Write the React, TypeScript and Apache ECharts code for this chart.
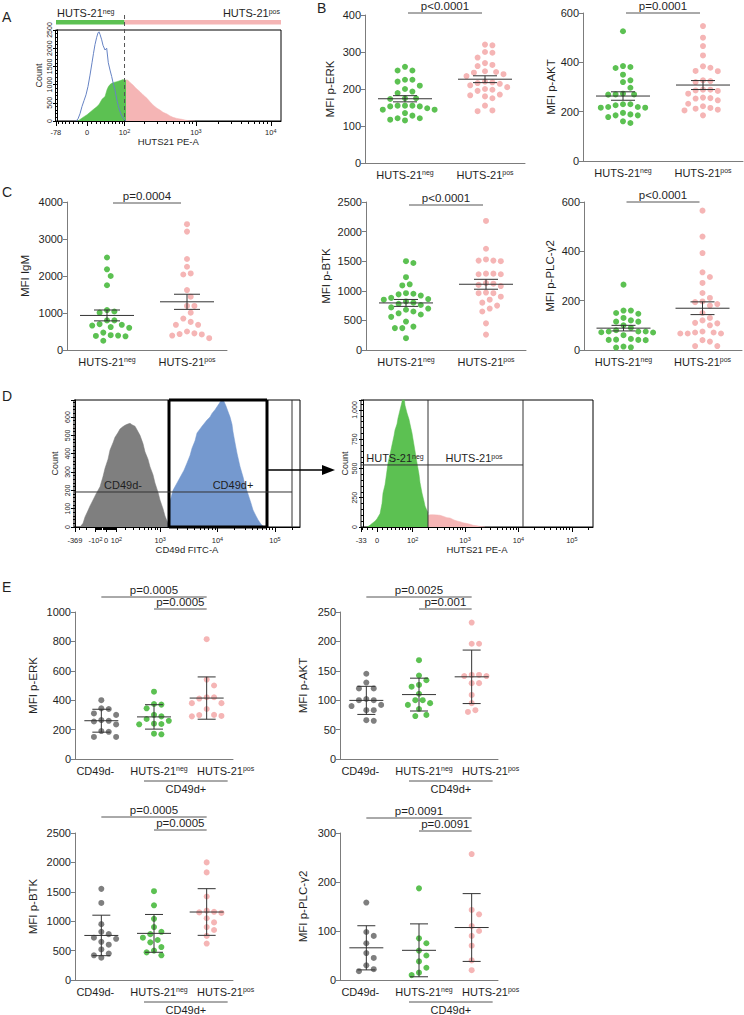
import React, { useEffect, useRef } from "react";
import * as echarts from "echarts";

const FONT = '"Liberation Sans", Arial, Helvetica, sans-serif';
const TXT = "#1f1f1f";
const AX = "#7c7c7c";
const ERR = "#333333";
const GREEN = "#5cc152";
const PINK = "#f5b5b5";
const GRAY = "#7f7f7f";
const BLUE = "#7599cf";
const BLUE_LINE = "#6683c4";

// ---------- categories ----------
const catsHuts = ["HUTS-21neg", "HUTS-21pos"];
const catsE = ["CD49d-", "HUTS-21neg", "HUTS-21pos"];

// ---------- panel B / C values (MFI) ----------
const bErkNeg = [260, 250, 250, 225, 220, 225, 209, 200, 193, 189, 175, 175, 173, 155, 155, 153, 153, 155, 144, 144, 148, 135, 128, 121, 117, 121, 115];
const bErkPos = [320, 318, 300, 298, 285, 270, 265, 262, 248, 246, 244, 240, 235, 220, 218, 216, 214, 210, 205, 200, 198, 195, 185, 183, 180, 175, 155, 142, 140];
const bAktNeg = [526, 381, 377, 385, 350, 320, 327, 297, 270, 273, 269, 270, 219, 230, 230, 219, 216, 216, 226, 185, 178, 195, 185, 189, 154, 161];
const bAktPos = [547, 500, 466, 428, 378, 384, 364, 365, 327, 320, 324, 289, 289, 273, 286, 284, 255, 232, 253, 246, 257, 215, 208, 222, 205, 212, 185];
const cIgmNeg = [2500, 2180, 2000, 1750, 1080, 1040, 1010, 800, 800, 700, 680, 660, 620, 600, 470, 400, 390, 380, 370, 250];
const cIgmPos = [3400, 3200, 2460, 2250, 2040, 2070, 1620, 1440, 1190, 1190, 1010, 850, 680, 680, 760, 450, 500, 390, 420, 430, 320];
const cBtkNeg = [1500, 1470, 1230, 1110, 1090, 960, 950, 940, 920, 880, 860, 850, 820, 800, 780, 760, 720, 700, 680, 650, 620, 600, 560, 480, 395, 370, 370, 200];
const cBtkPos = [2180, 1710, 1530, 1510, 1500, 1510, 1290, 1280, 1290, 1280, 1130, 1120, 1100, 1080, 970, 960, 960, 900, 850, 800, 750, 700, 650, 450, 260];
const cPlcNeg = [265, 160, 150, 147, 160, 130, 120, 115, 115, 100, 90, 80, 75, 72, 71, 75, 75, 60, 45, 42, 41, 41, 40, 14, 11, 10];
const cPlcPos = [565, 460, 393, 315, 296, 272, 231, 211, 197, 194, 186, 180, 150, 130, 120, 110, 108, 100, 75, 71, 71, 67, 67, 67, 40, 34, 16, 16];

// ---------- panel E values (MFI) ----------
const eErkCd49dNeg = [400, 345, 340, 310, 300, 265, 260, 255, 235, 190, 185, 150, 150];
const eErkHutsNeg = [458, 374, 370, 345, 300, 290, 272, 260, 240, 238, 236, 172, 168];
const eErkHutsPos = [815, 540, 500, 411, 420, 420, 380, 380, 340, 300, 293, 299, 290];
const eAktCd49dNeg = [145, 130, 120, 120, 102, 100, 100, 92, 90, 83, 83, 65, 66];
const eAktHutsNeg = [168, 142, 134, 126, 123, 111, 100, 100, 95, 92, 85, 73, 75];
const eAktHutsPos = [232, 196, 196, 143, 141, 143, 141, 129, 129, 109, 95, 80, 83];
const eBtkCd49dNeg = [1550, 1310, 950, 820, 780, 720, 700, 650, 600, 520, 450, 420, 380];
const eBtkHutsNeg = [1510, 1270, 1040, 900, 820, 780, 720, 680, 640, 560, 500, 470, 420];
const eBtkHutsPos = [2000, 1830, 1420, 1180, 1160, 1150, 1140, 1050, 980, 900, 850, 750, 620];
const ePlcCd49dNeg = [158, 98, 90, 75, 55, 45, 30, 22, 18];
const ePlcHutsNeg = [187, 85, 75, 60, 50, 38, 25, 15, 10];
const ePlcHutsPos = [257, 143, 134, 110, 100, 90, 70, 40, 20];

// ---------- histograms: [display channel, count] ----------
const aControl = [[19, 0], [21, 60], [23, 200], [25, 400], [27, 560], [29, 720], [31, 950], [33, 1260], [35, 1600], [36.5, 1860], [38, 2100], [39.7, 2300], [41, 2420], [42, 2450], [43, 2380], [44.7, 2230], [46, 2080], [48, 1950], [49.7, 2000], [51.3, 1600], [53, 1400], [54.7, 1220], [56.5, 1000], [58, 850], [60, 560], [61.5, 390], [63.5, 220], [66, 80], [69, 0]];
const aNeg = [[21, 0], [24, 60], [27, 120], [30, 170], [33, 240], [36, 310], [39.7, 390], [42, 450], [45, 600], [48, 670], [50, 860], [51.3, 940], [53, 1000], [54.7, 1035], [57, 1060], [59.7, 1080], [62, 1100], [64.7, 1125], [66, 1140], [68, 1110], [69, 1130]];
const aPos = [[69, 1130], [71, 1120], [73, 1060], [76, 990], [79, 900], [83, 806], [86, 720], [90, 623], [93, 530], [96, 440], [100, 350], [103, 302], [106, 240], [110, 192], [113, 140], [116, 101], [120, 70], [125, 46], [129, 20], [133, 5], [138, 0]];
const dCd49dNeg = [[5, 0], [8, 20], [10, 55], [13, 90], [15, 115], [18, 147], [21, 180], [25, 220], [28, 275], [30, 320], [33, 370], [35, 420], [38, 460], [40, 490], [43, 515], [45, 535], [48, 548], [50, 555], [52, 560], [55, 566], [57, 558], [60, 550], [62, 530], [65, 500], [68, 455], [70, 410], [73, 370], [75, 329], [78, 285], [80, 240], [83, 190], [85, 147], [88, 100], [90, 60], [93, 20], [94, 0]];
const dCd49dPos = [[93, 0], [94, 130], [96, 160], [98, 200], [102, 240], [105, 270], [109, 310], [112, 349], [115, 390], [117, 430], [120, 470], [122, 513], [125, 535], [127, 550], [130, 570], [132, 584], [135, 600], [137, 620], [140, 640], [142, 656], [144, 672], [146, 690], [147, 700], [149, 685], [151, 660], [153, 630], [155, 601], [157, 560], [158, 520], [160, 460], [162, 403], [165, 330], [168, 274], [170, 230], [173, 180], [176, 130], [178, 93], [181, 60], [183, 40], [186, 15], [188, 5], [190, 0]];
const dHutsNeg = [[4, 0], [7, 15], [9, 30], [12, 50], [14, 70], [17, 114], [19, 200], [20, 290], [22, 360], [23, 420], [25, 547], [27, 620], [29, 700], [31, 780], [32, 829], [34, 880], [35, 930], [37, 1000], [39, 1070], [40, 1150], [41, 1120], [42, 1040], [44, 974], [46, 920], [47, 880], [49, 803], [51, 700], [52, 650], [54, 547], [56, 450], [57, 380], [59, 290], [61, 220], [62, 180], [64, 140], [65, 120]];
const dHutsPos = [[65, 100], [67, 104], [70, 105], [74, 103], [77, 100], [80, 92], [84, 80], [87, 77], [91, 60], [94, 52], [97, 45], [100, 36], [103, 32], [107, 24], [110, 15], [114, 10], [117, 5], [122, 0]];

// ---------- histogram axis tick values (data units) ----------
const ticksA = [-78, 0, 100, 1000, 10000];
const ticksDL = [-369, -100, 0, 100, 1000, 10000, 100000];
const ticksDR = [-33, 0, 100, 1000, 10000, 100000];

// display transforms (biexponential-like)
const TA = (v: number) => 30 + 32.5 * Math.asinh(v / 70);
const TDL = (v: number) => 31 + 25 * Math.asinh(v / 232);
const TDR = (v: number) => 14 + 23.2 * Math.asinh(v / 45);

const font = (s: number) => `${s}px ${FONT}`;

function tickLabel(v: number) {
  const a = Math.abs(v);
  if (a >= 100) {
    const p = Math.round(Math.log10(a));
    if (Math.pow(10, p) === a) return (v < 0 ? "-" : "") + "10{s|" + p + "}";
  }
  return String(v);
}

function minorValues(T: (v: number) => number, xMin: number, xMax: number, majors: number[]) {
  const out: number[] = [];
  const mags = [10, 100, 1000, 10000, 100000];
  for (const m of mags) {
    for (let k = m === 10 ? 1 : 2; k <= 9; k++) {
      for (const s of [1, -1]) {
        const v = s * k * m;
        if (majors.includes(v)) continue;
        const d = T(v);
        if (d > xMin && d < xMax) out.push(d);
      }
    }
  }
  return out;
}

function swarm(vals: number[], pxY: number, d: number): number[] {
  const idx = vals.map((_, i) => i).sort((a, b) => vals[b] - vals[a]);
  const placed: { x: number; y: number }[] = [];
  const out = new Array(vals.length).fill(0);
  const step = d * 0.5;
  for (const i of idx) {
    const y = vals[i] * pxY;
    for (let k = 0; k < 200; k++) {
      const cand = k === 0 ? 0 : (k % 2 ? 1 : -1) * Math.ceil(k / 2) * step;
      if (placed.every((p) => (p.x - cand) ** 2 + (p.y - y) ** 2 >= d * d - 0.01)) {
        out[i] = cand;
        placed.push({ x: cand, y });
        break;
      }
    }
  }
  return out;
}

function stat(v: number[], kind: string) {
  const n = v.length;
  const m = v.reduce((a, b) => a + b, 0) / n;
  const sd = Math.sqrt(v.reduce((a, b) => a + (b - m) ** 2, 0) / (n - 1));
  const e = kind === "sem" ? sd / Math.sqrt(n) : sd;
  return [m, m - e, m + e];
}

type Bracket = { a: number; b: number; text: string; dy: number; inset: number };
type ScatterPanel = {
  left: number; top: number; width: number; height: number;
  cats: string[]; groups: { v: number[]; c: string }[];
  yMax: number; yStep: number; yName: string; nameGap: number;
  err: string; meanHalf: number; capHalf: number; brackets: Bracket[]; sub?: string;
};

const twoCat = (v1: number[], v2: number[]) => [{ v: v1, c: GREEN }, { v: v2, c: PINK }];
const threeCat = (v0: number[], v1: number[], v2: number[]) => [{ v: v0, c: GRAY }, { v: v1, c: GREEN }, { v: v2, c: PINK }];

const scatterPanels: ScatterPanel[] = [
  { left: 365, top: 15, width: 160, height: 148, cats: catsHuts, groups: twoCat(bErkNeg, bErkPos), yMax: 400, yStep: 100, yName: "MFI p-ERK", nameGap: 29, err: "sem", meanHalf: 27, capHalf: 12, brackets: [{ a: 0, b: 1, text: "p<0.0001", dy: 2, inset: 3 }] },
  { left: 583, top: 13, width: 160, height: 148, cats: catsHuts, groups: twoCat(bAktNeg, bAktPos), yMax: 600, yStep: 200, yName: "MFI p-AKT", nameGap: 26, err: "sem", meanHalf: 27, capHalf: 12, brackets: [{ a: 0, b: 1, text: "p=0.0001", dy: 0, inset: 3 }] },
  { left: 67, top: 202, width: 160, height: 148, cats: catsHuts, groups: twoCat(cIgmNeg, cIgmPos), yMax: 4000, yStep: 1000, yName: "MFI IgM", nameGap: 36, err: "sem", meanHalf: 27, capHalf: 13, brackets: [{ a: 0, b: 1, text: "p=0.0004", dy: -1, inset: 6 }] },
  { left: 366, top: 202, width: 160, height: 148, cats: catsHuts, groups: twoCat(cBtkNeg, cBtkPos), yMax: 2500, yStep: 500, yName: "MFI p-BTK", nameGap: 34, err: "sem", meanHalf: 27, capHalf: 12, brackets: [{ a: 0, b: 1, text: "p<0.0001", dy: -3, inset: 3 }] },
  { left: 584, top: 202, width: 158, height: 148, cats: catsHuts, groups: twoCat(cPlcNeg, cPlcPos), yMax: 600, yStep: 200, yName: "MFI p-PLC-γ2", nameGap: 28, err: "sem", meanHalf: 27, capHalf: 12, brackets: [{ a: 0, b: 1, text: "p<0.0001", dy: 0, inset: 3 }] },
  { left: 75, top: 612, width: 158, height: 147, cats: catsE, groups: threeCat(eErkCd49dNeg, eErkHutsNeg, eErkHutsPos), yMax: 1000, yStep: 200, yName: "MFI p-ERK", nameGap: 36, err: "sd", meanHalf: 17, capHalf: 9, sub: "CD49d+", brackets: [{ a: 0, b: 2, text: "p=0.0005", dy: 15, inset: 0 }, { a: 1, b: 2, text: "p=0.0005", dy: 3, inset: 0 }] },
  { left: 340, top: 612, width: 158, height: 147, cats: catsE, groups: threeCat(eAktCd49dNeg, eAktHutsNeg, eAktHutsPos), yMax: 250, yStep: 50, yName: "MFI p-AKT", nameGap: 31, err: "sd", meanHalf: 17, capHalf: 9, sub: "CD49d+", brackets: [{ a: 0, b: 2, text: "p=0.0025", dy: 15, inset: 0 }, { a: 1, b: 2, text: "p=0.001", dy: 3, inset: 0 }] },
  { left: 75, top: 833, width: 158, height: 147, cats: catsE, groups: threeCat(eBtkCd49dNeg, eBtkHutsNeg, eBtkHutsPos), yMax: 2500, yStep: 500, yName: "MFI p-BTK", nameGap: 36, err: "sd", meanHalf: 17, capHalf: 9, sub: "CD49d+", brackets: [{ a: 0, b: 2, text: "p=0.0005", dy: 16, inset: 0 }, { a: 1, b: 2, text: "p=0.0005", dy: 3, inset: 0 }] },
  { left: 340, top: 833, width: 158, height: 147, cats: catsE, groups: threeCat(ePlcCd49dNeg, ePlcHutsNeg, ePlcHutsPos), yMax: 300, yStep: 100, yName: "MFI p-PLC-γ2", nameGap: 31, err: "sd", meanHalf: 17, capHalf: 9, sub: "CD49d+", brackets: [{ a: 0, b: 2, text: "p=0.0091", dy: 15, inset: 0 }, { a: 1, b: 2, text: "p=0.0091", dy: 2, inset: 0 }] },
];

type Hist = {
  base: number; xMin: number; xMax: number; top: number; height: number;
  yMax: number; yStep: number; T: (v: number) => number; ticks: number[];
  xName: string; xNameGap: number; yNameGap: number; labelMargin: number;
  layers: { data: number[][]; fill?: string; line?: string }[];
  yFmt?: (v: number) => string;
};

const histPanels: Hist[] = [
  { base: 57, xMin: -1.5, xMax: 224, top: 30, height: 91, yMax: 2500, yStep: 500, T: TA, ticks: ticksA, xName: "HUTS21 PE-A", xNameGap: 12, yNameGap: 12, labelMargin: 7,
    layers: [{ data: aNeg, fill: GREEN }, { data: aPos, fill: PINK }, { data: aControl, line: BLUE_LINE }] },
  { base: 75, xMin: -1, xMax: 225, top: 400, height: 127, yMax: 693, yStep: 100, T: TDL, ticks: ticksDL, xName: "CD49d FITC-A", xNameGap: 16, yNameGap: 15, labelMargin: 9,
    layers: [{ data: dCd49dNeg, fill: GRAY }, { data: dCd49dPos, fill: BLUE }] },
  { base: 363, xMin: -2, xMax: 230, top: 400, height: 127, yMax: 1085, yStep: 250, T: TDR, ticks: ticksDR, xName: "HUTS21 PE-A", xNameGap: 16, yNameGap: 12, labelMargin: 9,
    layers: [{ data: dHutsNeg, fill: GREEN }, { data: dHutsPos, fill: PINK }],
    yFmt: (v: number) => (v >= 1000 ? "1,000" : String(v)) },
];

function catLabel(v: string, n: number, i: number) {
  const m = v.match(/^(.*)(neg|pos)$/);
  let s = m ? m[1] + "{sup|" + m[2] + "}" : v;
  if (n === 3) {
    if (i === 0) s = s + "{gR| }";
    else if (i === 1) s = "{gA| }" + s;
    else s = "{gB| }" + s;
  }
  return s;
}

function buildOption() {
  const grids: any[] = [];
  const xAxes: any[] = [];
  const yAxes: any[] = [];
  const series: any[] = [];
  const g: any[] = [];
  const txt = (x: number, y: number, text: string, size: number, align = "center", vAlign = "middle", rich?: any) => ({
    type: "text", x, y, z: 60,
    style: { text, font: font(size), fill: TXT, align, verticalAlign: vAlign, textAlign: align, textVerticalAlign: vAlign, rich },
  });
  const ln = (x1: number, y1: number, x2: number, y2: number, stroke: string, w: number, dash?: number[]) => ({
    type: "line", z: 55, shape: { x1, y1, x2, y2 }, style: { stroke, lineWidth: w, lineDash: dash },
  });
  const supRich = { sup: { fontSize: 7, verticalAlign: "top", fontFamily: FONT, color: TXT } };

  // ---------- scatter panels ----------
  for (const p of scatterPanels) {
    const gi = grids.length;
    const n = p.cats.length;
    grids.push({ left: p.left, top: p.top, width: p.width, height: p.height, show: false });
    xAxes.push({
      type: "category", gridIndex: gi, position: "bottom", data: p.cats, boundaryGap: true,
      axisLine: { lineStyle: { color: AX, width: 1 } },
      axisTick: { alignWithLabel: true, length: 4, lineStyle: { color: AX } },
      axisLabel: {
        interval: 0, margin: 6, color: TXT, fontSize: 11, fontFamily: FONT,
        formatter: (v: string, i: number) => catLabel(v, n, i),
        rich: { ...supRich, gR: { width: 12 }, gA: { width: 10 }, gB: { width: 38 } },
      },
      splitLine: { show: false },
    });
    const xv = xAxes.length;
    xAxes.push({ type: "value", gridIndex: gi, position: "bottom", min: 0, max: n, show: false });
    const yi = yAxes.length;
    yAxes.push({
      type: "value", gridIndex: gi, min: 0, max: p.yMax, interval: p.yStep,
      axisLine: { show: true, lineStyle: { color: AX, width: 1 } },
      axisTick: { show: true, length: 4, lineStyle: { color: AX } },
      axisLabel: { color: TXT, fontSize: 11, fontFamily: FONT, margin: 4, formatter: (v: number) => String(v) },
      splitLine: { show: false },
      name: p.yName, nameLocation: "middle", nameGap: p.nameGap,
      nameTextStyle: { color: TXT, fontSize: 11.5, fontFamily: FONT },
    });
    const pxX = p.width / n;
    const pxY = p.height / p.yMax;
    p.groups.forEach((grp, ci) => {
      const offs = swarm(grp.v, pxY, 7.4);
      series.push({
        type: "scatter", xAxisIndex: xv, yAxisIndex: yi, silent: true, z: 3,
        symbol: "circle", symbolSize: 6,
        itemStyle: { color: grp.c, opacity: 1 },
        data: grp.v.map((v, i) => [ci + 0.5 + offs[i] / pxX, v]),
      });
    });
    const statData = p.groups.map((grp, ci) => [ci + 0.5, ...stat(grp.v, p.err)]);
    const mh = p.meanHalf, ch = p.capHalf;
    series.push({
      type: "custom", xAxisIndex: xv, yAxisIndex: yi, silent: true, z: 6,
      data: statData,
      renderItem: (params: any, api: any) => {
        const x = api.value(0), m = api.value(1), lo = api.value(2), hi = api.value(3);
        const pm = api.coord([x, m]);
        const pl = api.coord([x, lo]);
        const ph = api.coord([x, hi]);
        const st = { stroke: ERR, lineWidth: 1 };
        return {
          type: "group",
          children: [
            { type: "line", shape: { x1: pm[0] - mh, y1: pm[1], x2: pm[0] + mh, y2: pm[1] }, style: st },
            { type: "line", shape: { x1: pl[0], y1: pl[1], x2: ph[0], y2: ph[1] }, style: st },
            { type: "line", shape: { x1: pl[0] - ch, y1: pl[1], x2: pl[0] + ch, y2: pl[1] }, style: st },
            { type: "line", shape: { x1: ph[0] - ch, y1: ph[1], x2: ph[0] + ch, y2: ph[1] }, style: st },
          ],
        };
      },
    });
    const cx = (i: number) => p.left + (p.width * (i + 0.5)) / n;
    for (const b of p.brackets) {
      const y = p.top - b.dy;
      const x1 = cx(b.a) + b.inset, x2 = cx(b.b) - b.inset;
      g.push(ln(x1, y, x2, y, "#555", 1));
      g.push(txt((x1 + x2) / 2, y - 1, b.text, 11.5, "center", "bottom"));
    }
    if (p.sub) {
      const x1 = cx(1) - 10, x2 = cx(2) + 21;
      const yb = p.top + p.height;
      g.push(ln(x1, yb + 22, x2, yb + 22, "#555", 1));
      g.push(txt((x1 + x2) / 2, yb + 30, p.sub, 11));
    }
  }

  // ---------- histogram panels ----------
  const hx = (h: Hist, d: number) => h.base + d;
  const hy = (h: Hist, c: number) => h.top + h.height * (1 - c / h.yMax);
  for (const h of histPanels) {
    const gi = grids.length;
    grids.push({ left: h.base + h.xMin, top: h.top, width: h.xMax - h.xMin, height: h.height, show: true, borderColor: "#000", borderWidth: 1, backgroundColor: "transparent" });
    const majors = h.ticks.map(h.T);
    const xm = xAxes.length;
    xAxes.push({
      type: "value", gridIndex: gi, position: "bottom", min: h.xMin, max: h.xMax,
      axisLine: { show: true, lineStyle: { color: "#000", width: 1 } },
      axisTick: { show: true, customValues: majors, length: 5, lineStyle: { color: "#000" } },
      axisLabel: {
        show: true, customValues: majors, color: TXT, fontSize: 7.5, fontFamily: FONT, margin: h.labelMargin,
        formatter: (val: number) => {
          let bi = 0;
          majors.forEach((m, i) => { if (Math.abs(m - val) < Math.abs(majors[bi] - val)) bi = i; });
          return tickLabel(h.ticks[bi]);
        },
        rich: { s: { fontSize: 5.5, verticalAlign: "top", fontFamily: FONT, color: TXT } },
      },
      splitLine: { show: false },
      name: h.xName, nameLocation: "middle", nameGap: h.xNameGap,
      nameTextStyle: { color: TXT, fontSize: 9.5, fontFamily: FONT },
    });
    xAxes.push({
      type: "value", gridIndex: gi, position: "bottom", min: h.xMin, max: h.xMax,
      axisLine: { show: false },
      axisTick: { show: true, customValues: minorValues(h.T, h.xMin, h.xMax, h.ticks), length: 3, lineStyle: { color: "#000" } },
      axisLabel: { show: false },
      splitLine: { show: false },
    });
    const yi = yAxes.length;
    yAxes.push({
      type: "value", gridIndex: gi, min: 0, max: h.yMax, interval: h.yStep,
      axisLine: { show: true, lineStyle: { color: "#000", width: 1 } },
      axisTick: { show: true, length: 4, lineStyle: { color: "#000" } },
      minorTick: { show: true, splitNumber: 5, length: 2, lineStyle: { color: "#000" } },
      axisLabel: {
        rotate: 90, color: TXT, fontSize: 7, fontFamily: FONT, margin: 3,
        showMaxLabel: h.yMax % h.yStep === 0,
        formatter: h.yFmt ? h.yFmt : (v: number) => String(v),
      },
      splitLine: { show: false }, minorSplitLine: { show: false },
      name: "Count", nameLocation: "middle", nameGap: h.yNameGap,
      nameTextStyle: { color: TXT, fontSize: 9, fontFamily: FONT },
    });
    for (const L of h.layers) {
      series.push({
        type: "line", xAxisIndex: xm, yAxisIndex: yi, data: L.data, silent: true,
        symbol: "none", showSymbol: false, clip: true, z: L.line ? 4 : 2,
        lineStyle: { color: L.line || L.fill, width: L.line ? 1 : 0.5 },
        areaStyle: L.fill ? { color: L.fill, opacity: 1 } : undefined,
      });
    }
  }

  // ---------- annotations on histograms ----------
  const [hA, hDL, hDR] = histPanels;
  const gateA = hx(hA, TA(100));
  g.push({ type: "rect", z: 50, shape: { x: 56, y: 20, width: gateA - 56, height: 4.5 }, style: { fill: GREEN } });
  g.push({ type: "rect", z: 50, shape: { x: gateA, y: 20, width: hx(hA, hA.xMax) - gateA, height: 4.5 }, style: { fill: PINK } });
  g.push(txt(57, 13, "HUTS-21{sup|neg}", 11, "left", "middle", supRich));
  g.push(txt(hx(hA, hA.xMax) - 1, 13, "HUTS-21{sup|pos}", 11, "right", "middle", supRich));
  g.push(ln(gateA, 15, gateA, hy(hA, 0), "#555", 1, [4, 3]));

  const b1 = 94, b2 = 192, b3 = 217, lvl = 191;
  g.push(ln(hx(hDL, b1), hy(hDL, hDL.yMax), hx(hDL, b1), hy(hDL, 0), "#000", 3));
  g.push(ln(hx(hDL, b2), hy(hDL, hDL.yMax), hx(hDL, b2), hy(hDL, 0), "#000", 3));
  g.push(ln(hx(hDL, b1), hy(hDL, hDL.yMax), hx(hDL, b2), hy(hDL, hDL.yMax), "#000", 3));
  g.push(ln(hx(hDL, b1), hy(hDL, 0), hx(hDL, b2), hy(hDL, 0), "#000", 3));
  g.push(ln(hx(hDL, b3), hy(hDL, hDL.yMax), hx(hDL, b3), hy(hDL, 0), "#333", 1));
  g.push(ln(hx(hDL, hDL.xMin), hy(hDL, lvl), hx(hDL, b3), hy(hDL, lvl), "#333", 1));
  g.push(txt(hx(hDL, 48), hy(hDL, lvl) - 1, "CD49d-", 11, "center", "bottom"));
  g.push(txt(hx(hDL, 158), hy(hDL, lvl) - 1, "CD49d+", 11, "center", "bottom"));

  const r1 = 65, r2 = 160, rl = 530;
  g.push(ln(hx(hDR, r1), hy(hDR, hDR.yMax), hx(hDR, r1), hy(hDR, 0), "#333", 1));
  g.push(ln(hx(hDR, r2), hy(hDR, hDR.yMax), hx(hDR, r2), hy(hDR, 0), "#333", 1));
  g.push(ln(hx(hDR, hDR.xMin), hy(hDR, rl), hx(hDR, r2), hy(hDR, rl), "#333", 1));
  g.push(txt(hx(hDR, 32), hy(hDR, rl) - 1, "HUTS-21{sup|neg}", 11, "center", "bottom", supRich));
  g.push(txt(hx(hDR, 111), hy(hDR, rl) - 1, "HUTS-21{sup|pos}", 11, "center", "bottom", supRich));

  const ay = 470;
  g.push(ln(hx(hDL, b2) + 1, ay, 325, ay, "#000", 1.6));
  g.push({ type: "polygon", z: 55, shape: { points: [[335, ay], [322, ay - 5], [322, ay + 5]] }, style: { fill: "#000" } });

  g.push(txt(2, 17, "A", 14, "left"));
  g.push(txt(317, 8, "B", 14, "left"));
  g.push(txt(2, 192, "C", 14, "left"));
  g.push(txt(2, 396, "D", 14, "left"));
  g.push(txt(2, 587, "E", 14, "left"));

  return {
    animation: false,
    backgroundColor: "#fff",
    textStyle: { fontFamily: FONT },
    grid: grids,
    xAxis: xAxes,
    yAxis: yAxes,
    series,
    graphic: { elements: g },
  };
}

export default function App() {
  const ref = useRef<HTMLDivElement>(null);
  useEffect(() => {
    document.body.style.margin = "0";
    const chart = echarts.init(ref.current as HTMLDivElement, null, { renderer: "svg" });
    chart.setOption(buildOption() as any);
    return () => chart.dispose();
  }, []);
  return <div ref={ref} style={{ width: 744, height: 1015, position: "absolute", left: 0, top: 0, background: "#fff" }} />;
}
